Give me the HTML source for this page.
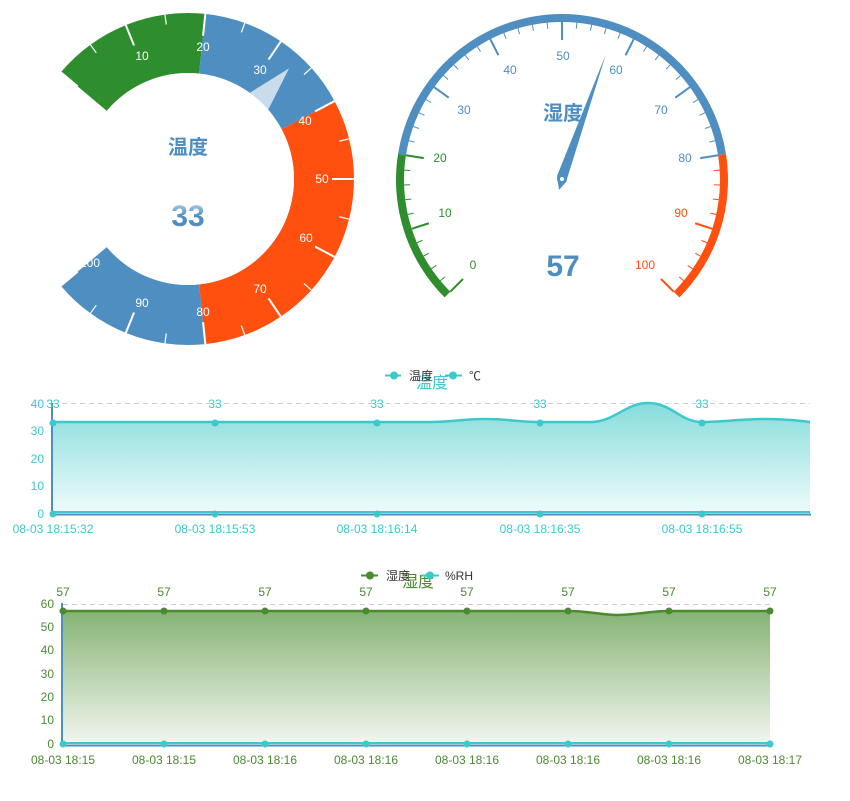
<!DOCTYPE html>
<html><head><meta charset="utf-8"><style>
body{margin:0;background:#fff;width:850px;height:801px;overflow:hidden}
svg{display:block;font-family:"Liberation Sans","Noto Sans CJK SC",sans-serif}
</style></head><body>
<svg id="s" width="850" height="801" viewBox="0 0 850 801">
<defs>
<linearGradient id="g1" x1="0" y1="0" x2="0" y2="1"><stop offset="0" stop-color="#86dcdb"/><stop offset="1" stop-color="#effbfb"/></linearGradient>
<linearGradient id="g2" x1="0" y1="0" x2="0" y2="1"><stop offset="0" stop-color="#86b373"/><stop offset="1" stop-color="#f2f6f0"/></linearGradient>
<linearGradient id="g3" x1="0" y1="0" x2="0" y2="1"><stop offset="0" stop-color="#c8dcec"/><stop offset="0.5" stop-color="#4e8ec0"/></linearGradient>
</defs>
<g id="L"></g>
<g id="R"></g>
<g fill="#fff" font-size="12" text-anchor="middle">
<text x="142" y="60">10</text><text x="203" y="51">20</text><text x="260" y="74">30</text><text x="305" y="125">40</text><text x="322" y="183">50</text><text x="306" y="242">60</text><text x="260" y="293">70</text><text x="203" y="316">80</text><text x="142" y="307">90</text><text x="90" y="267">100</text>
</g>
<text x="188" y="154" font-size="20" font-weight="bold" fill="#4e8ec0" text-anchor="middle">温度</text>
<text x="188" y="226" font-size="30" font-weight="bold" fill="url(#g3)" text-anchor="middle">33</text>
<g font-size="12" text-anchor="middle">
<text x="473" y="269" fill="#2e8e2e">0</text><text x="445" y="217" fill="#2e8e2e">10</text><text x="440" y="162" fill="#2e8e2e">20</text>
<text x="464" y="114" fill="#4e8ec0">30</text><text x="510" y="74" fill="#4e8ec0">40</text><text x="563" y="60" fill="#4e8ec0">50</text><text x="616" y="74" fill="#4e8ec0">60</text><text x="661" y="114" fill="#4e8ec0">70</text><text x="685" y="162" fill="#4e8ec0">80</text>
<text x="681" y="217" fill="#ff5010">90</text><text x="645" y="269" fill="#ff5010">100</text>
</g>
<text x="563" y="120" font-size="20" font-weight="bold" fill="#4e8ec0" text-anchor="middle">湿度</text>
<polygon points="606,54 566,182 557,176" fill="#4e8ec0"/>
<polygon points="557,176 566,182 559,190" fill="#4e8ec0"/>
<circle cx="562" cy="179" r="5" fill="#4e8ec0"/><circle cx="562" cy="179" r="2" fill="#fff"/>
<text x="563" y="276" font-size="30" font-weight="bold" fill="#4e8ec0" text-anchor="middle">57</text>

<g stroke="#ccc" stroke-dasharray="5,4" stroke-width="1">
<line x1="53" x2="810" y1="403.5" y2="403.5"/><line x1="53" x2="810" y1="431.5" y2="431.5"/><line x1="53" x2="810" y1="458.5" y2="458.5"/><line x1="53" x2="810" y1="486.5" y2="486.5"/>
</g>
<path d="M53,422 L430,422 C455,422 460,419 485,419 C510,419 515,422 540,422 L590,422 C615,422 625,403 648,403 C672,403 680,422 702,422 C725,422 740,419 765,419 C790,419 800,421 810,422 L810,513 L53,513 Z" fill="url(#g1)"/>
<path d="M53,422 L430,422 C455,422 460,419 485,419 C510,419 515,422 540,422 L590,422 C615,422 625,403 648,403 C672,403 680,422 702,422 C725,422 740,419 765,419 C790,419 800,421 810,422" fill="none" stroke="#3cc8cc" stroke-width="2.5"/>
<line x1="53" x2="810" y1="512" y2="512" stroke="#3cc8cc" stroke-width="2"/>
<line x1="51" x2="811" y1="514.5" y2="514.5" stroke="#4e8ec0" stroke-width="2"/>
<line x1="52" x2="52" y1="403" y2="515" stroke="#4e8ec0" stroke-width="2"/>
<g fill="#3cc8cc">
<circle cx="53" cy="423" r="3.5"/><circle cx="215" cy="423" r="3.5"/><circle cx="377" cy="423" r="3.5"/><circle cx="540" cy="423" r="3.5"/><circle cx="702" cy="423" r="3.5"/>
<circle cx="53" cy="514" r="3.5"/><circle cx="215" cy="514" r="3.5"/><circle cx="377" cy="514" r="3.5"/><circle cx="540" cy="514" r="3.5"/><circle cx="702" cy="514" r="3.5"/>
</g>
<g fill="#3cc8cc" font-size="12">
<g text-anchor="end"><text x="44" y="408">40</text><text x="44" y="435">30</text><text x="44" y="463">20</text><text x="44" y="490">10</text><text x="44" y="518">0</text></g>
<g text-anchor="middle"><text x="53" y="408">33</text><text x="215" y="408">33</text><text x="377" y="408">33</text><text x="540" y="408">33</text><text x="702" y="408">33</text>
<text x="53" y="533">08-03 18:15:32</text><text x="215" y="533">08-03 18:15:53</text><text x="377" y="533">08-03 18:16:14</text><text x="540" y="533">08-03 18:16:35</text><text x="702" y="533">08-03 18:16:55</text></g>
<text x="432" y="388" font-size="16" text-anchor="middle">温度</text>
</g>
<g>
<line x1="385" x2="401" y1="375.5" y2="375.5" stroke="#3cc8cc" stroke-width="2"/><circle cx="394" cy="375.5" r="4" fill="#3cc8cc"/>
<text x="409" y="380" font-size="12" fill="#333">温度</text>
<line x1="445" x2="462" y1="375.5" y2="375.5" stroke="#3cc8cc" stroke-width="2"/><circle cx="453" cy="375.5" r="4" fill="#3cc8cc"/>
<text x="469" y="380" font-size="12" fill="#333">℃</text>
</g>

<g stroke="#ccc" stroke-dasharray="5,4" stroke-width="1">
<line x1="63" x2="770" y1="604.5" y2="604.5"/><line x1="63" x2="770" y1="627.5" y2="627.5"/><line x1="63" x2="770" y1="650.5" y2="650.5"/><line x1="63" x2="770" y1="674.5" y2="674.5"/><line x1="63" x2="770" y1="697.5" y2="697.5"/><line x1="63" x2="770" y1="720.5" y2="720.5"/>
</g>
<path d="M63,611 L568,611 C590,611 600,615 618,615 C635,615 650,611 669,611 L770,611 L770,744 L63,744 Z" fill="url(#g2)"/>
<path d="M63,611 L568,611 C590,611 600,615 618,615 C635,615 650,611 669,611 L770,611" fill="none" stroke="#4a8a30" stroke-width="2.5"/>
<line x1="63" x2="770" y1="743" y2="743" stroke="#3cc8cc" stroke-width="2"/>
<line x1="61" x2="771" y1="745.5" y2="745.5" stroke="#4e8ec0" stroke-width="2"/>
<line x1="62" x2="62" y1="603" y2="746" stroke="#4e8ec0" stroke-width="2"/>
<g fill="#4a8a30">
<circle cx="63" cy="611" r="3.5"/><circle cx="164" cy="611" r="3.5"/><circle cx="265" cy="611" r="3.5"/><circle cx="366" cy="611" r="3.5"/><circle cx="467" cy="611" r="3.5"/><circle cx="568" cy="611" r="3.5"/><circle cx="669" cy="611" r="3.5"/><circle cx="770" cy="611" r="3.5"/>
</g>
<g fill="#3cc8cc">
<circle cx="63" cy="744" r="3.5"/><circle cx="164" cy="744" r="3.5"/><circle cx="265" cy="744" r="3.5"/><circle cx="366" cy="744" r="3.5"/><circle cx="467" cy="744" r="3.5"/><circle cx="568" cy="744" r="3.5"/><circle cx="669" cy="744" r="3.5"/><circle cx="770" cy="744" r="3.5"/>
</g>
<g fill="#4a8a30" font-size="12">
<g text-anchor="end"><text x="54" y="608">60</text><text x="54" y="631">50</text><text x="54" y="654">40</text><text x="54" y="678">30</text><text x="54" y="701">20</text><text x="54" y="724">10</text><text x="54" y="748">0</text></g>
<g text-anchor="middle"><text x="63" y="596">57</text><text x="164" y="596">57</text><text x="265" y="596">57</text><text x="366" y="596">57</text><text x="467" y="596">57</text><text x="568" y="596">57</text><text x="669" y="596">57</text><text x="770" y="596">57</text>
<text x="63" y="764">08-03 18:15</text><text x="164" y="764">08-03 18:15</text><text x="265" y="764">08-03 18:16</text><text x="366" y="764">08-03 18:16</text><text x="467" y="764">08-03 18:16</text><text x="568" y="764">08-03 18:16</text><text x="669" y="764">08-03 18:16</text><text x="770" y="764">08-03 18:17</text></g>
<text x="418" y="587" font-size="16" text-anchor="middle">湿度</text>
</g>
<g>
<line x1="361" x2="378" y1="575.5" y2="575.5" stroke="#4a8a30" stroke-width="2"/><circle cx="370" cy="575.5" r="4" fill="#4a8a30"/>
<text x="386" y="580" font-size="12" fill="#333">湿度</text>
<line x1="421" x2="439" y1="575.5" y2="575.5" stroke="#3cc8cc" stroke-width="2"/><circle cx="430" cy="575.5" r="4" fill="#3cc8cc"/>
<text x="445" y="580" font-size="12" fill="#333">%RH</text>
</g>
</svg>
<script>
var NS="http://www.w3.org/2000/svg";
function el(p,t,a){var e=document.createElementNS(NS,t);for(var k in a)e.setAttribute(k,a[k]);p.appendChild(e);return e;}
function pt(cx,cy,r,a){a=a*Math.PI/180;return [cx+r*Math.cos(a),cy-r*Math.sin(a)];}
function arc(cx,cy,r1,r2,a1,a2){var p1=pt(cx,cy,r2,a1),p2=pt(cx,cy,r2,a2),p3=pt(cx,cy,r1,a2),p4=pt(cx,cy,r1,a1);var lg=Math.abs(a1-a2)>180?1:0;
return "M"+p1+" A"+r2+","+r2+" 0 "+lg+" 1 "+p2+" L"+p3+" A"+r1+","+r1+" 0 "+lg+" 0 "+p4+"Z";}
var L=document.getElementById("L"),cx=188,cy=179;
function aL(v){return 140-2.8*v;}
[[0,20,"#2e8e2e"],[20,40,"#4e8ec0"],[40,80,"#ff5010"],[80,100,"#4e8ec0"]].forEach(function(s){el(L,"path",{d:arc(cx,cy,106,166,aL(s[0]),aL(s[1])),fill:s[2]});});
for(var v=0;v<=100;v+=5){var ln=(v%10==0)?22:10;var a=pt(cx,cy,166,aL(v)),b=pt(cx,cy,166-ln,aL(v));el(L,"line",{x1:a[0],y1:a[1],x2:b[0],y2:b[1],stroke:"#fff","stroke-width":(v%10==0)?2:1.2});}
var pa=aL(33),tip=pt(cx,cy,150,pa),bc=pt(cx,cy,100,pa),pr=(pa-90)*Math.PI/180;
var dx=14*Math.cos(pr),dy=-14*Math.sin(pr);
el(L,"polygon",{points:tip+" "+(bc[0]+dx)+","+(bc[1]+dy)+" "+(bc[0]-dx)+","+(bc[1]-dy),fill:"#c8dcec"});
el(L,"circle",{cx:cx,cy:cy,r:106,fill:"#fff"});
var R=document.getElementById("R"),rx=562,ry=180;
function aR(v){return 225-2.7*v;}
[[0,20,"#2e8e2e"],[20,80,"#4e8ec0"],[80,100,"#ff5010"]].forEach(function(s){el(R,"path",{d:arc(rx,ry,158,166,aR(s[0]),aR(s[1])),fill:s[2]});});
for(var v=0;v<=100;v+=2){var maj=v%10==0;var ln=maj?18:6;var a=pt(rx,ry,158,aR(v)),b=pt(rx,ry,158-ln,aR(v));
var c=v<20?"#2e8e2e":(v<80?"#4e8ec0":"#ff5010");if(v==20)c="#2e8e2e";if(v==80)c="#4e8ec0";
el(R,"line",{x1:a[0],y1:a[1],x2:b[0],y2:b[1],stroke:c,"stroke-width":maj?2:1});}
</script>
</body></html>
